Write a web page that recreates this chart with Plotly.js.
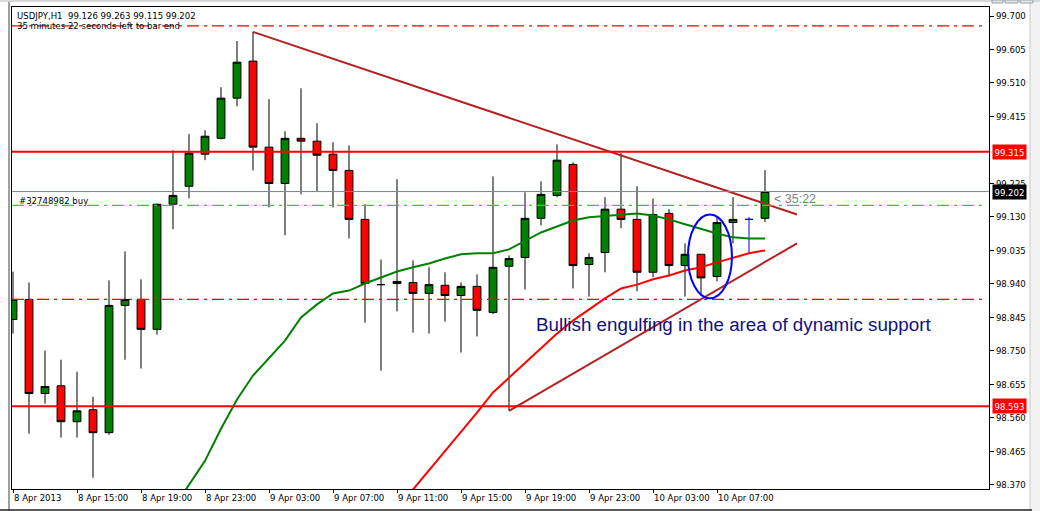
<!DOCTYPE html>
<html>
<head>
<meta charset="utf-8">
<script src="https://cdn.plot.ly/plotly-3.0.1.min.js"></script>
<style>
html,body{margin:0;padding:0;background:#fff;}
#chart{width:1040px;height:511px;}
</style>
</head>
<body>
<div id="chart"></div>
<script>
// ---------- DATA ----------
const times = [
  '2013-04-08 11:00','2013-04-08 12:00','2013-04-08 13:00','2013-04-08 14:00','2013-04-08 15:00',
  '2013-04-08 16:00','2013-04-08 17:00','2013-04-08 18:00','2013-04-08 19:00','2013-04-08 20:00',
  '2013-04-08 21:00','2013-04-08 22:00','2013-04-08 23:00',
  '2013-04-09 00:00','2013-04-09 01:00','2013-04-09 02:00','2013-04-09 03:00','2013-04-09 04:00',
  '2013-04-09 05:00','2013-04-09 06:00','2013-04-09 07:00','2013-04-09 08:00','2013-04-09 09:00',
  '2013-04-09 10:00','2013-04-09 11:00','2013-04-09 12:00','2013-04-09 13:00','2013-04-09 14:00',
  '2013-04-09 15:00','2013-04-09 16:00','2013-04-09 17:00','2013-04-09 18:00','2013-04-09 19:00',
  '2013-04-09 20:00','2013-04-09 21:00','2013-04-09 22:00','2013-04-09 23:00',
  '2013-04-10 00:00','2013-04-10 01:00','2013-04-10 02:00','2013-04-10 03:00','2013-04-10 04:00',
  '2013-04-10 05:00','2013-04-10 06:00','2013-04-10 07:00','2013-04-10 08:00','2013-04-10 09:00',
  '2013-04-10 10:00'
];
const openP = [
  98.839,98.896,98.629,98.651,98.549,98.583,98.518,98.879,98.896,98.811,
  99.166,99.217,99.308,99.353,99.467,99.572,99.328,99.225,99.353,99.345,
  99.308,99.262,99.123,98.938,98.941,98.944,98.913,98.936,98.907,98.933,
  98.859,98.990,99.015,99.126,99.191,99.279,98.995,99.029,99.152,99.123,
  98.973,99.140,98.992,99.024,98.961,99.114,99.123,99.126
];
const highP = [
  98.975,98.944,98.751,98.725,98.691,98.620,98.950,99.032,98.953,99.168,
  99.319,99.365,99.376,99.498,99.629,99.655,99.464,99.373,99.495,99.396,
  99.342,99.333,99.166,99.009,99.237,99.007,98.987,98.973,98.944,98.967,
  99.245,99.021,99.200,99.231,99.336,99.285,99.027,99.186,99.311,99.217,
  99.182,99.152,99.055,99.024,99.129,99.186,99.130,99.263
];
const lowP = [
  98.799,98.515,98.600,98.504,98.504,98.390,98.512,98.725,98.700,98.796,
  99.095,99.183,99.291,99.350,99.444,99.262,99.157,99.078,99.194,99.203,
  99.157,99.069,98.830,98.694,98.862,98.802,98.799,98.833,98.745,98.791,
  98.854,98.580,98.924,99.106,99.186,98.927,98.904,98.973,99.098,98.919,
  98.959,98.961,98.904,98.909,98.947,99.055,99.029,99.115
];
const closeP = [
  98.896,98.629,98.649,98.549,98.580,98.518,98.879,98.896,98.811,99.166,
  99.191,99.311,99.359,99.467,99.569,99.328,99.225,99.353,99.345,99.305,
  99.262,99.123,98.941,98.938,98.947,98.913,98.938,98.907,98.933,98.865,
  98.987,99.012,99.126,99.194,99.291,98.992,99.015,99.152,99.123,98.973,
  99.137,98.992,99.024,98.957,99.114,99.123,99.123,99.202
];
const markedBarTime = '2013-04-10 09:00';   // the bar drawn as a blue cross

const maGreen = [
  null,null,null,null,null,null,null,null,null,null,
  98.302,98.370,98.438,98.529,98.612,98.680,98.731,98.779,98.845,98.882,
  98.913,98.921,98.941,98.958,98.975,98.987,98.998,99.012,99.024,99.027,
  99.027,99.038,99.061,99.086,99.103,99.120,99.129,99.132,99.137,99.140,
  99.134,99.123,99.109,99.095,99.083,99.072,99.069,99.069
];
const maRed = [
  null,null,null,null,null,null,null,null,null,null,
  null,null,null,null,null,null,null,null,null,null,
  null,null,null,null,98.302,98.356,98.410,98.467,98.521,98.575,
  98.632,98.674,98.717,98.759,98.799,98.836,98.867,98.899,98.927,98.938,
  98.953,98.964,98.978,98.987,99.001,99.015,99.027,99.035
];

const upperTrendTimes  = ['2013-04-09 02:00','2013-04-10 12:00'];
const upperTrendPrices = [99.655, 99.137];
const lowerTrendTimes  = ['2013-04-09 18:00','2013-04-10 12:00'];
const lowerTrendPrices = [98.580, 99.055];

const ellipseTimes  = ['2013-04-10 05:11','2013-04-10 07:56'];
const ellipsePrices = [98.899, 99.137];

const resistanceLevel = 99.315;
const supportLevel    = 98.593;
const bidPrice        = 99.202;
const orderPrice      = 99.163;
const takeProfit      = 99.672;
const stopLoss        = 98.896;

// 99.320 is hidden behind the 99.315 level label in the reference
const yTickVals = [98.370,98.465,98.560,98.655,98.750,98.845,98.940,99.035,99.130,99.225,99.415,99.510,99.605,99.700];
const xTickVals = ['2013-04-08 11:00','2013-04-08 15:00','2013-04-08 19:00','2013-04-08 23:00',
  '2013-04-09 03:00','2013-04-09 07:00','2013-04-09 11:00','2013-04-09 15:00',
  '2013-04-09 19:00','2013-04-09 23:00','2013-04-10 03:00','2013-04-10 07:00'];
const xTickText = ['8 Apr 2013','8 Apr 15:00','8 Apr 19:00','8 Apr 23:00',
  '9 Apr 03:00','9 Apr 07:00','9 Apr 11:00','9 Apr 15:00',
  '9 Apr 19:00','9 Apr 23:00','10 Apr 03:00','10 Apr 07:00'];

const headerText  = 'USDJPY,H1\u00a0\u00a099.126 99.263 99.115 99.202';
const timerText   = '35 minutes 22 seconds left to bar end';
const orderText   = '#32748982 buy';
const countdown   = '< 35:22';
const commentText = 'Bullish engulfing in the area of dynamic support';

// ---------- LAYOUT HELPERS ----------
const L = 12, R = 989, T = 7, B = 489, W = 1040, H = 511;
const px = X => (X - L) / (R - L);
const py = Y => (B - Y) / (B - T);
const FONT = 'DejaVu Sans Condensed, Liberation Sans, Arial, sans-serif';
const FONT2 = 'Liberation Sans, Arial, sans-serif';

// ---------- TRACES ----------
const mainIdx = times.map((t, i) => i).filter(i => times[i] !== markedBarTime);
const markIdx = times.map((t, i) => i).filter(i => times[i] === markedBarTime);
const pick = (arr, idx) => idx.map(i => arr[i]);

const candleMain = {
  type: 'candlestick',
  x: pick(times, mainIdx), open: pick(openP, mainIdx), high: pick(highP, mainIdx),
  low: pick(lowP, mainIdx), close: pick(closeP, mainIdx),
  increasing: {line: {color: '#000000', width: 1}, fillcolor: '#008000'},
  decreasing: {line: {color: '#000000', width: 1}, fillcolor: '#ff0000'},
  whiskerwidth: 0, hoverinfo: 'skip', showlegend: false
};
const candleMark = {
  type: 'candlestick',
  x: pick(times, markIdx), open: pick(openP, markIdx), high: pick(highP, markIdx),
  low: pick(lowP, markIdx), close: pick(closeP, markIdx),
  increasing: {line: {color: '#0000ff', width: 1}, fillcolor: '#0000ff'},
  decreasing: {line: {color: '#0000ff', width: 1}, fillcolor: '#0000ff'},
  whiskerwidth: 0, hoverinfo: 'skip', showlegend: false
};
const greenMA = {type: 'scatter', mode: 'lines', x: times, y: maGreen,
  line: {color: '#008000', width: 2}, hoverinfo: 'skip', showlegend: false};
const redMA = {type: 'scatter', mode: 'lines', x: times, y: maRed,
  line: {color: '#ff0000', width: 2}, hoverinfo: 'skip', showlegend: false};
const upperTrend = {type: 'scatter', mode: 'lines', x: upperTrendTimes, y: upperTrendPrices,
  line: {color: '#b22222', width: 2}, hoverinfo: 'skip', showlegend: false};
const lowerTrend = {type: 'scatter', mode: 'lines', x: lowerTrendTimes, y: lowerTrendPrices,
  line: {color: '#b22222', width: 2}, hoverinfo: 'skip', showlegend: false};

// ---------- SHAPES ----------
const dashDot = '12px,5px,3px,5px';
const hline = (y, color, width, dash, x1) => ({
  type: 'line', xref: 'paper', yref: 'y', x0: 0, x1: x1, y0: y, y1: y,
  line: {color: color, width: width, dash: dash}, layer: 'above'
});
const shapes = [
  hline(takeProfit, '#ff0000', 1.2, dashDot, px(983)),
  hline(orderPrice, '#32cd32', 1.2, dashDot, px(983)),
  hline(stopLoss, '#ff0000', 1.2, dashDot, px(983)),
  hline(bidPrice, '#778899', 1, 'solid', 1),
  hline(resistanceLevel, '#ff0000', 2, 'solid', 1),
  hline(supportLevel, '#ff0000', 2, 'solid', 1),
  {type: 'circle', xref: 'x', yref: 'y', x0: ellipseTimes[0], x1: ellipseTimes[1],
   y0: ellipsePrices[0], y1: ellipsePrices[1], line: {color: '#0000ff', width: 2}, layer: 'above'},
  // window decorations
  {type: 'rect', xref: 'paper', yref: 'paper', x0: px(8), x1: px(10), y0: py(H), y1: py(0),
   fillcolor: '#a0a0a0', line: {width: 0}},
  {type: 'rect', xref: 'paper', yref: 'paper', x0: px(1030), x1: px(W), y0: py(H), y1: py(0),
   fillcolor: '#f2f2f2', line: {width: 0}},
  {type: 'line', xref: 'paper', yref: 'paper', x0: px(1030), x1: px(1030), y0: py(H), y1: py(0),
   line: {color: '#c8c8c8', width: 1}},
  {type: 'rect', xref: 'paper', yref: 'paper', x0: px(0), x1: px(W), y0: py(2), y1: py(0),
   fillcolor: '#d8d8d8', line: {width: 0}},
  {type: 'rect', xref: 'paper', yref: 'paper', x0: px(992), x1: px(1003), y0: py(3), y1: py(0),
   fillcolor: '#e4e4e4', line: {color: '#9aa4b0', width: 1}},
  {type: 'rect', xref: 'paper', yref: 'paper', x0: px(1005), x1: px(1018), y0: py(3), y1: py(0),
   fillcolor: '#e4e4e4', line: {color: '#9aa4b0', width: 1}},
  {type: 'rect', xref: 'paper', yref: 'paper', x0: px(1020), x1: px(1033), y0: py(3), y1: py(0),
   fillcolor: '#e4e4e4', line: {color: '#9aa4b0', width: 1}},
  {type: 'line', xref: 'paper', yref: 'paper', x0: px(0), x1: px(1032), y0: py(510), y1: py(510),
   line: {color: '#202020', width: 1.5}}
];

// ---------- ANNOTATIONS ----------
const axisBox = (y, text, bg) => ({
  xref: 'paper', yref: 'y', x: 1, y: y, xanchor: 'left', yanchor: 'middle', xshift: 3,
  text: text, showarrow: false, bgcolor: bg, borderpad: 1.5,
  font: {family: FONT, size: 9.5, color: '#ffffff'}
});
const annotations = [
  {xref: 'paper', yref: 'paper', x: px(15), y: py(15.5), xanchor: 'left', yanchor: 'middle',
   text: headerText, showarrow: false, font: {family: FONT, size: 9.5, color: '#000'}},
  {xref: 'paper', yref: 'paper', x: px(15), y: py(25.5), xanchor: 'left', yanchor: 'middle',
   text: timerText, showarrow: false, font: {family: FONT, size: 9.5, color: '#000'}},
  {xref: 'paper', yref: 'y', x: px(17), y: orderPrice, yshift: 5, xanchor: 'left', yanchor: 'middle',
   text: orderText, showarrow: false, font: {family: FONT, size: 9.5, color: '#000'}},
  {xref: 'paper', yref: 'paper', x: px(772), y: py(199), xanchor: 'left', yanchor: 'middle',
   text: countdown, showarrow: false, font: {family: FONT2, size: 12.5, color: '#808080'}},
  {xref: 'paper', yref: 'paper', x: px(534), y: py(324), xanchor: 'left', yanchor: 'middle',
   text: commentText, showarrow: false, font: {family: FONT2, size: 18.8, color: '#101080'}},
  axisBox(resistanceLevel, resistanceLevel.toFixed(3), '#ff0000'),
  axisBox(bidPrice, bidPrice.toFixed(3), '#000000'),
  axisBox(supportLevel, supportLevel.toFixed(3), '#ff0000')
];

// ---------- LAYOUT ----------
const pxPerUnit = 352.5;
const yTop = 99.700 + (16 - T) / pxPerUnit;
const yBot = 99.700 - (B - 16) / pxPerUnit;

const layout = {
  width: W, height: H,
  margin: {l: L, r: W - R, t: T, b: H - B, pad: 0},
  paper_bgcolor: '#ffffff', plot_bgcolor: '#ffffff',
  font: {family: FONT, size: 9.5, color: '#000'},
  showlegend: false,
  xaxis: {
    type: 'date', range: ['2013-04-08 10:56:15', '2013-04-11 00:00'],
    rangeslider: {visible: false},
    showgrid: false, zeroline: false,
    showline: true, mirror: true, linecolor: '#000', linewidth: 1,
    ticks: 'outside', ticklen: 3, tickcolor: '#000', tickwidth: 1,
    tickmode: 'array', tickvals: xTickVals, ticktext: xTickText,
    tickangle: 0, ticklabelposition: 'outside right',
    tickfont: {family: FONT, size: 9.5, color: '#000'}, fixedrange: true
  },
  yaxis: {
    side: 'right', range: [yBot, yTop],
    showgrid: false, zeroline: false,
    showline: true, mirror: true, linecolor: '#000', linewidth: 1,
    ticks: 'outside', ticklen: 4, tickcolor: '#000', tickwidth: 1,
    tickmode: 'array', tickvals: yTickVals, tickformat: '.3f',
    tickfont: {family: FONT, size: 9.5, color: '#000'}, fixedrange: true
  },
  shapes: shapes,
  annotations: annotations
};

Plotly.newPlot('chart', [candleMain, candleMark, greenMA, redMA, upperTrend, lowerTrend], layout,
  {staticPlot: true, displayModeBar: false});
</script>
</body>
</html>
